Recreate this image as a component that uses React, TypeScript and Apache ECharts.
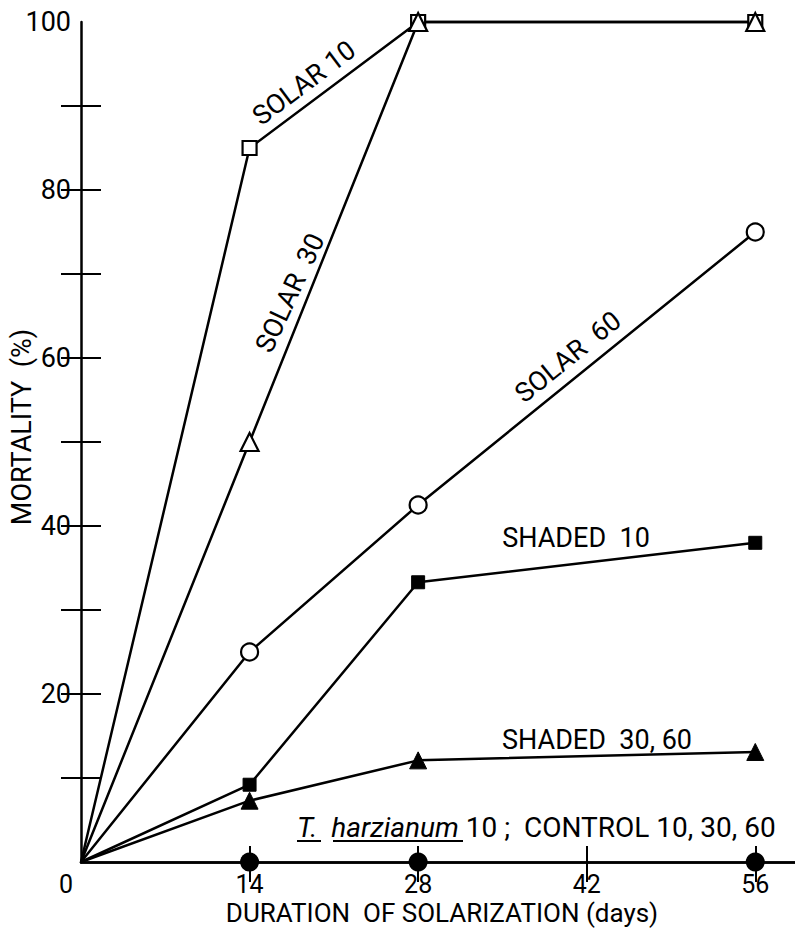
import React, { useEffect, useRef } from "react";
import * as echarts from "echarts";

const days = [0, 14, 28, 56];
const solar10 = [0, 85, 100, 100];
const solar30 = [0, 50, 100, 100];
const solar60 = [0, 25, 42.5, 75];
const shaded10 = [0, 9.2, 33.3, 38];
const shaded3060 = [0, 7.3, 12.1, 13.1];
const controlDays = [14, 28, 56];
const controlVals = [0, 0, 0];
const xTicks = [0, 14, 28, 42, 56];
const yMinorTicks = [10, 20, 30, 40, 50, 60, 70, 80, 90];
const yLabels = [20, 40, 60, 80, 100];

const FONT = "Roboto";

function pairs(xs: number[], ys: number[]) {
  return xs.map((x, i) => (x === 0 ? { value: [x, ys[i]], symbol: "none" } : { value: [x, ys[i]] }));
}

export default function App() {
  const ref = useRef<HTMLDivElement>(null);
  useEffect(() => {
    if (!ref.current) return;
    const chart = echarts.init(ref.current, null, { renderer: "svg" });
    const lineBase = {
      type: "line" as const,
      clip: false,
      lineStyle: { color: "#000", width: 2.5 },
      z: 3,
    };
    const openItem = { color: "#fff", borderColor: "#000", borderWidth: 2.2, opacity: 1 };
    const solidItem = { color: "#000", borderColor: "#000", borderWidth: 1, opacity: 1 };
    const textStyle = (fs: number) => ({ fontFamily: FONT, fontSize: fs, fill: "#000" });
    chart.setOption({
      animation: false,
      backgroundColor: "#fff",
      grid: { left: 81, right: 0, top: 22, bottom: 66 },
      xAxis: [
        {
          type: "value",
          min: 0,
          max: 59.3,
          interval: 14,
          position: "bottom",
          splitLine: { show: false },
          axisLine: { show: true, lineStyle: { color: "#000", width: 2.5 } },
          axisTick: {
            show: true,
            inside: true,
            length: 16,
            customValues: [14, 28, 42, 56],
            lineStyle: { color: "#000", width: 2 },
          },
          axisLabel: {
            customValues: xTicks,
            margin: 9,
            fontFamily: FONT,
            fontSize: 25,
            lineHeight: 26,
            color: "#000",
            formatter: (v: number) => (v === 0 ? "{z|0}" : String(v)),
            rich: { z: { fontFamily: FONT, fontSize: 25, lineHeight: 26, color: "#000", padding: [0, 30, 0, 0] } },
          },
        },
        {
          type: "value",
          min: 0,
          max: 59.3,
          interval: 14,
          position: "top",
          splitLine: { show: false },
          axisLine: { show: true, lineStyle: { color: "#000", width: 2.5 } },
          axisTick: {
            show: true,
            inside: true,
            length: 20,
            customValues: [14, 28, 42, 56],
            lineStyle: { color: "#000", width: 2 },
          },
          axisLabel: { show: false },
        },
      ],
      yAxis: [
        {
          type: "value",
          min: 0,
          max: 100,
          interval: 10,
          position: "left",
          splitLine: { show: false },
          axisLine: { show: true, lineStyle: { color: "#000", width: 2.5 } },
          axisTick: {
            show: true,
            inside: true,
            length: 20,
            customValues: yMinorTicks,
            lineStyle: { color: "#000", width: 2 },
          },
          axisLabel: {
            customValues: yLabels,
            margin: 10,
            fontFamily: FONT,
            fontSize: 27,
            color: "#000",
          },
        },
        {
          type: "value",
          min: 0,
          max: 100,
          interval: 10,
          position: "right",
          splitLine: { show: false },
          axisLine: { show: false },
          axisTick: {
            show: true,
            inside: true,
            length: 20,
            customValues: yMinorTicks,
            lineStyle: { color: "#000", width: 2 },
          },
          axisLabel: { show: false },
        },
      ],
      series: [
        { ...lineBase, name: "SOLAR 10", data: pairs(days, solar10), symbol: "rect", symbolSize: 14, itemStyle: openItem },
        { ...lineBase, name: "SOLAR 60", data: pairs(days, solar60), symbol: "circle", symbolSize: 17, itemStyle: openItem },
        { ...lineBase, name: "SHADED 10", data: pairs(days, shaded10), symbol: "rect", symbolSize: 13, itemStyle: solidItem },
        { ...lineBase, name: "SHADED 30, 60", data: pairs(days, shaded3060), symbol: "triangle", symbolSize: 17, itemStyle: solidItem },
        { ...lineBase, name: "SOLAR 30", data: pairs(days, solar30), symbol: "triangle", symbolSize: 18, itemStyle: openItem },
        {
          type: "scatter",
          name: "CONTROL",
          data: controlDays.map((d, i) => [d, controlVals[i]]),
          symbol: "circle",
          symbolSize: 19,
          itemStyle: { color: "#000", opacity: 1 },
          clip: false,
          z: 4,
        },
      ],
      graphic: [
        { type: "text", x: 22, y: 427, rotation: Math.PI / 2, style: { ...textStyle(27), text: "MORTALITY  (%)", align: "center", verticalAlign: "middle" } },
        { type: "text", x: 442, y: 913, style: { ...textStyle(26), text: "DURATION  OF SOLARIZATION (days)", align: "center", verticalAlign: "middle", lineHeight: 26 } },
        { type: "text", x: 304, y: 83, rotation: (37 * Math.PI) / 180, style: { ...textStyle(27), text: "SOLAR 10", align: "center", verticalAlign: "middle" } },
        { type: "text", x: 290, y: 293, rotation: (65 * Math.PI) / 180, style: { ...textStyle(27), text: "SOLAR  30", align: "center", verticalAlign: "middle" } },
        { type: "text", x: 568, y: 357, rotation: (39 * Math.PI) / 180, style: { ...textStyle(27), text: "SOLAR  60", align: "center", verticalAlign: "middle" } },
        { type: "text", x: 576, y: 538, style: { ...textStyle(27), text: "SHADED  10", align: "center", verticalAlign: "middle" } },
        { type: "text", x: 597, y: 740, style: { ...textStyle(27), text: "SHADED  30, 60", align: "center", verticalAlign: "middle" } },
        {
          type: "text",
          x: 297,
          y: 827,
          style: {
            ...textStyle(28),
            text: "{i|T.}  {i|harzianum} 10 ;  CONTROL 10, 30, 60",
            align: "left",
            verticalAlign: "middle",
            rich: { i: { fontFamily: FONT, fontSize: 28, fontStyle: "italic", fill: "#000" } },
          },
        },
        { type: "line", shape: { x1: 297, y1: 841, x2: 321, y2: 841 }, style: { stroke: "#000", lineWidth: 2 } },
        { type: "line", shape: { x1: 333, y1: 841, x2: 463, y2: 841 }, style: { stroke: "#000", lineWidth: 2 } },
      ],
    });
    return () => chart.dispose();
  }, []);
  return <div ref={ref} style={{ position: "fixed", left: 0, top: 0, width: 795, height: 928 }} />;
}
